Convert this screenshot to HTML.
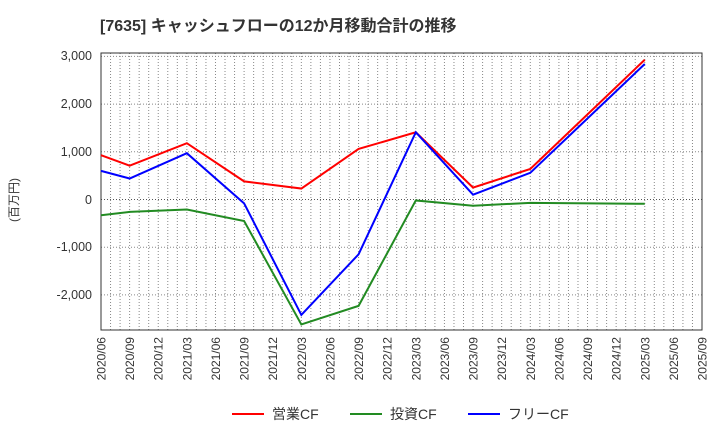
<!DOCTYPE html><html><head><style>body{margin:0;background:#fff}svg{font-family:"Liberation Sans","Noto Sans CJK JP",sans-serif}</style></head><body>
<svg width="720" height="440" xmlns="http://www.w3.org/2000/svg">
<text x="100" y="31" font-size="16" font-weight="bold" fill="#333">[7635]  キャッシュフローの12か月移動合計の推移</text>
<g id="grid" stroke="#888" stroke-dasharray="1,2" stroke-width="1"></g>
<rect x="101" y="53" width="601" height="277" fill="none" stroke="#333"/>
<g font-size="12.5" fill="#333" text-anchor="end">
<text x="92" y="60">3,000</text><text x="92" y="108">2,000</text><text x="92" y="156">1,000</text><text x="92" y="204">0</text><text x="92" y="251">-1,000</text><text x="92" y="299">-2,000</text>
</g>
<text transform="translate(18,200) rotate(-90)" font-size="12" fill="#333" text-anchor="middle">(百万円)</text>
<g id="xl" font-size="12" fill="#333"></g>
<g fill="none" stroke-width="2">
<polyline id="g" stroke="#228b22"/><polyline id="r" stroke="#ff0000"/><polyline id="b" stroke="#0000ff"/>
</g>
<g font-size="14" fill="#333">
<line x1="232" y1="414" x2="264" y2="414" stroke="#ff0000" stroke-width="2"/><text x="272" y="419">営業CF</text>
<line x1="350" y1="414" x2="382" y2="414" stroke="#228b22" stroke-width="2"/><text x="390" y="419">投資CF</text>
<line x1="468" y1="414" x2="500" y2="414" stroke="#0000ff" stroke-width="2"/><text x="508" y="419">フリーCF</text>
</g>
</svg>
<script>
const ns="http://www.w3.org/2000/svg",g=document.getElementById('grid'),xl=document.getElementById('xl');
const X=i=>101+i*601/21,Y=v=>199.5-v*0.0477;
for(let m=1;m<63;m++){const x=101+m*601/63;const l=document.createElementNS(ns,'line');l.setAttribute('x1',x);l.setAttribute('x2',x);l.setAttribute('y1',53);l.setAttribute('y2',330);g.appendChild(l);}
[3000,2000,1000,0,-1000,-2000].forEach(v=>{const l=document.createElementNS(ns,'line');l.setAttribute('x1',101);l.setAttribute('x2',702);l.setAttribute('y1',Y(v));l.setAttribute('y2',Y(v));if(v==0)l.setAttribute('stroke','#555');g.appendChild(l);});
for(let i=0;i<22;i++){const mo=6+i*3,y=2020+Math.floor((mo-1)/12),m=((mo-1)%12)+1;const t=document.createElementNS(ns,'text');t.textContent=y+'/'+String(m).padStart(2,'0');t.setAttribute('transform',`translate(${X(i)+4.5},337) rotate(-90)`);t.setAttribute('text-anchor','end');xl.appendChild(t);}
const idx=[0,1,3,5,7,9,11,13,15,19];
const d={r:[930,710,1180,380,230,1060,1410,250,640,2930],b:[600,440,970,-80,-2420,-1150,1410,100,560,2840],g:[-330,-260,-210,-450,-2620,-2230,-20,-130,-70,-90]};
for(const k in d)document.getElementById(k).setAttribute('points',d[k].map((v,j)=>X(idx[j])+','+Y(v)).join(' '));
</script>
</body></html>
